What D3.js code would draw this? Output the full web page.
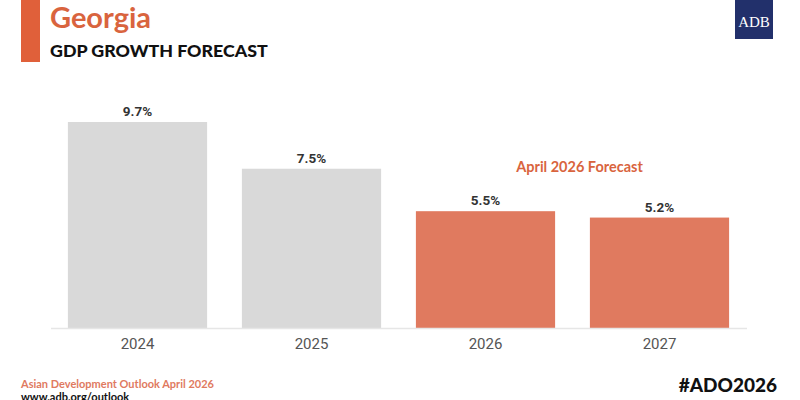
<!DOCTYPE html>
<html>
<head>
<meta charset="utf-8">
<script src="https://cdn.jsdelivr.net/npm/d3@7"></script>
<style>
  body { margin: 0; background: #fff; }
  svg { display: block; }
</style>
</head>
<body>
<svg id="chart" width="800" height="400"></svg>
<script>
// data
const years = ["2024", "2025", "2026", "2027"];
const growth = [9.7, 7.5, 5.5, 5.2];
const forecast = [false, false, true, true];

const svg = d3.select("#chart");
const font = "Lato, 'Open Sans', sans-serif";
const orange = "#d9643e";

const baseline = 328;

const x = d3.scaleBand()
  .domain(years)
  .range([50.5, 746.5])
  .paddingInner(0.2)
  .paddingOuter(0.1);

const y = d3.scaleLinear()
  .domain([0, 9.7])
  .range([baseline, 122]);

// header
svg.append("rect")
  .attr("x", 21).attr("y", 0)
  .attr("width", 19).attr("height", 62)
  .attr("fill", "#e0603a");

svg.append("text")
  .attr("x", 50).attr("y", 28)
  .attr("font-family", font).attr("font-weight", 700)
  .attr("font-size", 29).attr("fill", orange)
  .text("Georgia");

svg.append("text")
  .attr("x", 50).attr("y", 57)
  .attr("font-family", font).attr("font-weight", 900)
  .attr("font-size", 17.8).attr("fill", "#111")
  .text("GDP GROWTH FORECAST");

// logo
svg.append("rect")
  .attr("x", 735).attr("y", 0)
  .attr("width", 38).attr("height", 39)
  .attr("fill", "#22306b");
svg.append("text")
  .attr("x", 754).attr("y", 27)
  .attr("text-anchor", "middle")
  .attr("font-family", "'Liberation Serif', serif")
  .attr("font-size", 15).attr("fill", "#fff")
  .text("ADB");

// bars
svg.selectAll(".bar")
  .data(years)
  .enter()
  .append("rect")
  .attr("class", "bar")
  .attr("x", (d) => x(d))
  .attr("y", (d, i) => y(growth[i]))
  .attr("width", x.bandwidth())
  .attr("height", (d, i) => baseline - y(growth[i]))
  .attr("fill", (d, i) => forecast[i] ? "#e07a5f" : "#d9d9d9");

// value labels
svg.selectAll(".val")
  .data(years)
  .enter()
  .append("text")
  .attr("class", "val")
  .attr("x", (d) => x(d) + x.bandwidth() / 2)
  .attr("y", (d, i) => y(growth[i]) - 6)
  .attr("text-anchor", "middle")
  .attr("font-family", "Roboto, sans-serif").attr("font-weight", 700)
  .attr("font-size", 13.5).attr("fill", "#333")
  .text((d, i) => growth[i].toFixed(1) + "%");

// axis
const axis = svg.append("g")
  .attr("transform", `translate(0,${baseline})`)
  .call(d3.axisBottom(x).tickSize(0).tickPadding(10));
axis.select(".domain").attr("stroke", "#e6e6e6").attr("stroke-width", 1.5);
axis.selectAll("text")
  .attr("font-family", "Roboto, sans-serif")
  .attr("font-size", 15).attr("fill", "#555");

// annotation
svg.append("text")
  .attr("x", (x("2026") + x("2027") + x.bandwidth()) / 2 + 7)
  .attr("y", 172)
  .attr("text-anchor", "middle")
  .attr("font-family", font).attr("font-weight", 700)
  .attr("font-size", 14.5).attr("fill", orange)
  .text("April 2026 Forecast");

// footer
svg.append("text")
  .attr("x", 21).attr("y", 388)
  .attr("font-family", font).attr("font-weight", 700)
  .attr("font-size", 11).attr("fill", "#e07a5f")
  .text("Asian Development Outlook April 2026");
svg.append("text")
  .attr("x", 21).attr("y", 401)
  .attr("font-family", font).attr("font-weight", 700)
  .attr("font-size", 11).attr("fill", "#111")
  .text("www.adb.org/outlook");
svg.append("text")
  .attr("x", 777).attr("y", 392)
  .attr("text-anchor", "end")
  .attr("font-family", font).attr("font-weight", 900)
  .attr("font-size", 19).attr("fill", "#111")
  .text("#ADO2026");
</script>
</body>
</html>
